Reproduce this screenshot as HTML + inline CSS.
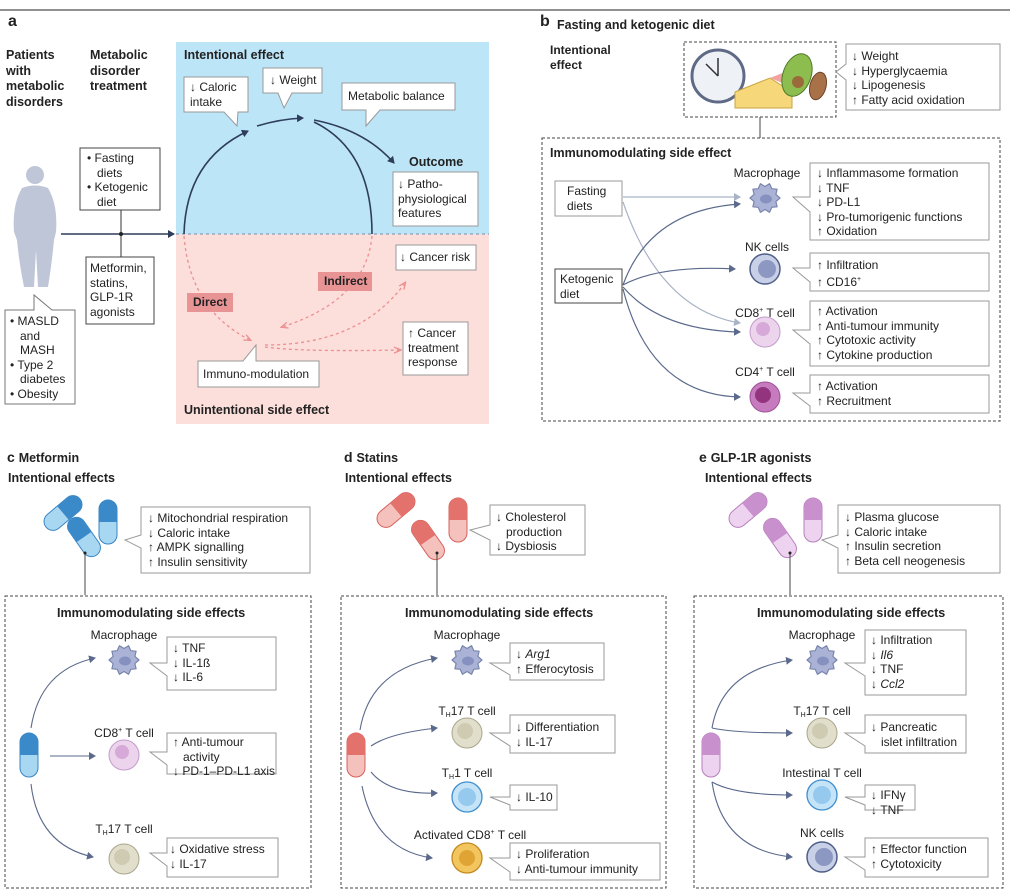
<!DOCTYPE html>
<html><head><meta charset="utf-8"><style>
body{margin:0;width:1016px;height:896px;position:relative;background:#fff;font-family:"Liberation Sans",sans-serif;color:#222;overflow:hidden}
.t{position:absolute;font-size:12px;line-height:14.5px;white-space:nowrap}
.b{font-weight:bold}
.h{position:absolute;font-weight:bold;font-size:12.5px;line-height:15px;white-space:nowrap}
.c{text-align:center;transform:translateX(-50%)}
sup{font-size:7px;vertical-align:5px}
sub{font-size:7px;vertical-align:-2px}
</style></head><body>
<svg width="1016" height="896" style="position:absolute;left:0;top:0">
<defs>
<marker id="ar" markerWidth="8" markerHeight="8" refX="6" refY="4" orient="auto" markerUnits="userSpaceOnUse"><path d="M0,0 L7,4 L0,8 Z" fill="#2f3d5c"/></marker>
<marker id="ag" markerWidth="8" markerHeight="8" refX="6" refY="4" orient="auto" markerUnits="userSpaceOnUse"><path d="M0,0 L7,4 L0,8 Z" fill="#5b6a8c"/></marker>
<marker id="al" markerWidth="8" markerHeight="8" refX="6" refY="4" orient="auto" markerUnits="userSpaceOnUse"><path d="M0,0 L7,4 L0,8 Z" fill="#a9b3c6"/></marker>
<marker id="ap" markerWidth="8" markerHeight="8" refX="6" refY="4" orient="auto" markerUnits="userSpaceOnUse"><path d="M0,1 L7,4 L0,7" fill="none" stroke="#ec8f8f" stroke-width="1.3"/></marker>
<symbol id="mac" overflow="visible"><polygon points="15,0 10.9,3.6 12.1,8.8 6.8,9.3 4.6,14.3 0,11.5 -4.6,14.3 -6.8,9.3 -12.1,8.8 -10.9,3.6 -15,0 -10.9,-3.6 -12.1,-8.8 -6.8,-9.3 -4.6,-14.3 0,-11.5 4.6,-14.3 6.8,-9.3 12.1,-8.8 10.9,-3.6" fill="#aab3d6" stroke="#7a85ad" stroke-width="1.2" stroke-linejoin="round"/><ellipse cx="1" cy="1" rx="6" ry="4.5" fill="#8791bf"/></symbol>
<symbol id="nk" overflow="visible"><circle r="15" fill="#c8d0e8" stroke="#4f5f88" stroke-width="1.5"/><circle cx="2" r="9" fill="#8d98c2"/></symbol>
<symbol id="cd8" overflow="visible"><circle r="15" fill="#ecd4ed" stroke="#c49bcc"/><circle cx="-2" cy="-3" r="7" fill="#d7a9d8"/></symbol>
<symbol id="cd4" overflow="visible"><circle r="15" fill="#c57bbd" stroke="#a05099"/><circle cx="-2" cy="-2" r="8" fill="#93347f"/></symbol>
<symbol id="th17" overflow="visible"><circle r="15" fill="#e1decb" stroke="#aaa68b"/><circle cx="-2" cy="-2" r="8" fill="#cfcbb3"/></symbol>
<symbol id="th1" overflow="visible"><circle r="15" fill="#c6e4f7" stroke="#3f8fd0" stroke-width="1.3"/><circle r="9" fill="#95c9ee"/></symbol>
<symbol id="act" overflow="visible"><circle r="15" fill="#f3c55e" stroke="#c28a1e" stroke-width="1.3"/><circle r="8" fill="#e0a434"/></symbol>
<symbol id="pb" overflow="visible"><rect x="-9" y="-22" width="18" height="44" rx="9" fill="#a8d7f2" stroke="#3a86c4"/><path d="M-9,0 V-13 A9,9 0 0 1 9,-13 V0 Z" fill="#3a8ac9"/></symbol>
<symbol id="pr" overflow="visible"><rect x="-9" y="-22" width="18" height="44" rx="9" fill="#f5c1bc" stroke="#d8605c"/><path d="M-9,0 V-13 A9,9 0 0 1 9,-13 V0 Z" fill="#e3716c"/></symbol>
<symbol id="pp" overflow="visible"><rect x="-9" y="-22" width="18" height="44" rx="9" fill="#eed3f0" stroke="#b77fbd"/><path d="M-9,0 V-13 A9,9 0 0 1 9,-13 V0 Z" fill="#c890cc"/></symbol>
</defs>
<line x1="0" y1="10" x2="1010" y2="10" stroke="#222" stroke-width="1"/>
<rect x="176" y="42" width="313" height="192" fill="#bde5f8"/>
<rect x="176" y="234" width="313" height="190" fill="#fcdedb"/>
<line x1="176" y1="234" x2="489" y2="234" stroke="#6f8fae" stroke-dasharray="3,3"/>
<g fill="#bfc6d8"><circle cx="35" cy="175" r="9"/><path d="M22,188 Q35,183 48,188 Q58,205 56,232 L54,240 Q52,262 48,287 L38,287 L36,250 L34,287 L24,287 Q19,262 17,240 L14,232 Q12,205 22,188 Z"/></g>
<g fill="#fff" stroke="#777">
<path d="M5,310H34V295L52,310H75V404H5Z"/>
<rect x="80" y="148" width="80" height="62" stroke="#444"/>
<rect x="86" y="257" width="68" height="67" stroke="#444"/>
</g>
<line x1="61" y1="234" x2="174" y2="234" stroke="#2f3d5c" stroke-width="1.5" marker-end="url(#ar)"/>
<line x1="121" y1="210" x2="121" y2="257" stroke="#333"/>
<circle cx="121" cy="234" r="2" fill="#222"/>
<g fill="#fff" stroke="#999">
<path d="M184,77H248V112H238L237,126L224,112H184Z"/>
<path d="M263,68H322V93H292L284,108L278,93H263Z"/>
<path d="M342,83H455V110H380L366,126L366,110H342Z"/>
<rect x="393" y="172" width="85" height="54"/>
<rect x="396" y="245" width="80" height="25"/>
<rect x="403" y="322" width="65" height="53"/>
<path d="M198,361H243L256,345L256,361H319V387H198Z"/>
</g>
<rect x="318" y="272" width="54" height="19" fill="#e89495"/>
<rect x="187" y="293" width="46" height="19" fill="#e89495"/>
<g fill="none" stroke="#2f3d5c" stroke-width="1.6">
<path d="M184,234 Q186,160 248,131" marker-end="url(#ar)"/>
<path d="M257,126 Q280,119 303,118" marker-end="url(#ar)"/>
<path d="M314,120 Q365,130 394,163" marker-end="url(#ar)"/>
<path d="M314,122 Q372,150 372,234"/>
</g>
<g fill="none" stroke="#ec8f8f" stroke-width="1.3" stroke-dasharray="3,3">
<path d="M184,236 Q190,310 250,340" marker-end="url(#ap)"/>
<path d="M372,236 Q366,300 282,327" marker-end="url(#ap)"/>
<path d="M265,345 Q360,345 405,283" marker-end="url(#ap)"/>
<path d="M265,347 Q300,352 400,350" marker-end="url(#ap)"/>
</g>
<rect x="684" y="42" width="152" height="75" fill="none" stroke="#444" stroke-dasharray="3,2"/>
<line x1="760" y1="117" x2="760" y2="138" stroke="#444"/>
<circle cx="718" cy="76" r="26" fill="#eef1f6" stroke="#5e6a86" stroke-width="3"/>
<line x1="718" y1="76" x2="718" y2="58" stroke="#333" stroke-width="1.5"/><line x1="718" y1="76" x2="706" y2="64" stroke="#333" stroke-width="1.5"/>
<path d="M735,92 L770,78 L792,92 L792,108 L735,108 Z" fill="#f6d77a" stroke="#c9a544"/>
<path d="M770,78 L790,70 L795,88" fill="#f2a3a0"/>
<ellipse cx="797" cy="75" rx="14" ry="22" transform="rotate(20 797 75)" fill="#8dbd4e" stroke="#4d7a2a"/>
<circle cx="798" cy="82" r="6" fill="#9a6a3a"/>
<ellipse cx="818" cy="86" rx="8" ry="14" transform="rotate(15 818 86)" fill="#a87148" stroke="#6e4528"/>
<rect x="542" y="138" width="458" height="283" fill="none" stroke="#444" stroke-dasharray="3,2"/>
<g fill="#fff" stroke="#999">
<path d="M846,44H1000V110H846V80L836,72L846,64Z"/>
<path d="M810,163H989V240H810V212L793,197L810,197Z"/>
<path d="M810,253H989V291H810V282L793,268L810,268Z"/>
<path d="M810,301H989V366H810V344L793,330L810,330Z"/>
<path d="M810,375H989V413H810V406L793,393L810,393Z"/>
<rect x="555" y="181" width="67" height="35"/>
<rect x="555" y="269" width="67" height="34" stroke="#444"/>
</g>
<g fill="none" stroke-width="1.2">
<path d="M623,197 L740,197" stroke="#a9b3c6" marker-end="url(#al)"/>
<path d="M623,202 Q660,310 740,323" stroke="#a9b3c6" marker-end="url(#al)"/>
<path d="M623,285 Q650,210 740,204" stroke="#5b6a8c" marker-end="url(#ag)"/>
<path d="M623,285 Q660,265 735,269" stroke="#5b6a8c" marker-end="url(#ag)"/>
<path d="M623,287 Q660,330 740,332" stroke="#5b6a8c" marker-end="url(#ag)"/>
<path d="M623,289 Q650,395 740,397" stroke="#5b6a8c" marker-end="url(#ag)"/>
</g>
<use href="#mac" x="765" y="198"/><use href="#nk" x="765" y="269"/><use href="#cd8" x="765" y="332"/><use href="#cd4" x="765" y="397"/>
<use href="#pb" transform="translate(63,513) rotate(50)"/>
<use href="#pb" x="108" y="522"/>
<use href="#pb" transform="translate(84,537) rotate(-35)"/>
<line x1="85" y1="553" x2="85" y2="595" stroke="#444"/><circle cx="85" cy="553" r="1.5" fill="#222"/>
<rect x="5" y="596" width="306" height="292" fill="none" stroke="#444" stroke-dasharray="3,2"/>
<use href="#pb" x="29" y="755"/>
<use href="#pr" transform="translate(396,510) rotate(50)"/>
<use href="#pr" x="458" y="520"/>
<use href="#pr" transform="translate(428,540) rotate(-35)"/>
<line x1="437" y1="553" x2="437" y2="595" stroke="#444"/><circle cx="437" cy="553" r="1.5" fill="#222"/>
<rect x="341" y="596" width="325" height="292" fill="none" stroke="#444" stroke-dasharray="3,2"/>
<use href="#pr" x="356" y="755"/>
<use href="#pp" transform="translate(748,510) rotate(50)"/>
<use href="#pp" x="813" y="520"/>
<use href="#pp" transform="translate(780,538) rotate(-35)"/>
<line x1="790" y1="553" x2="790" y2="595" stroke="#444"/><circle cx="790" cy="553" r="1.5" fill="#222"/>
<rect x="694" y="596" width="309" height="292" fill="none" stroke="#444" stroke-dasharray="3,2"/>
<use href="#pp" x="711" y="755"/>
<g fill="#fff" stroke="#999">
<path d="M141,507H310V573H141V548L125,540L141,535Z"/>
<path d="M167,637H276V690H167V676L150,663L167,663Z"/>
<path d="M167,733H276V774H167V765L150,752L167,752Z"/>
<path d="M167,838H278V877H167V866L150,853L167,853Z"/>
<path d="M490,505H585V555H490V540L470,530L490,525Z"/>
<path d="M510,643H604V680H510V675L490,663L510,663Z"/>
<path d="M510,715H615V753H510V746L490,733L510,733Z"/>
<path d="M510,785H557V810H510V805L490,797L510,797Z"/>
<path d="M510,843H660V880H510V872L490,858L510,858Z"/>
<path d="M838,505H1000V573H838V548L822,540L838,535Z"/>
<path d="M865,630H966V695H865V676L845,663L865,663Z"/>
<path d="M865,715H966V753H865V746L845,733L865,733Z"/>
<path d="M865,785H915V810H865V805L845,797L865,797Z"/>
<path d="M865,838H988V877H865V870L845,857L865,857Z"/>
</g>
<g fill="none" stroke="#5b6a8c" stroke-width="1.1">
<path d="M31,728 Q40,670 95,658" marker-end="url(#ag)"/>
<path d="M50,756 L95,756" marker-end="url(#ag)"/>
<path d="M31,784 Q38,845 93,857" marker-end="url(#ag)"/>
<path d="M360,730 Q370,670 437,658" marker-end="url(#ag)"/>
<path d="M371,746 Q390,733 437,728" marker-end="url(#ag)"/>
<path d="M371,772 Q390,795 437,793" marker-end="url(#ag)"/>
<path d="M362,786 Q375,850 432,858" marker-end="url(#ag)"/>
<path d="M712,728 Q722,670 792,660" marker-end="url(#ag)"/>
<path d="M712,728 Q735,733 792,733" marker-end="url(#ag)"/>
<path d="M712,782 Q735,795 792,795" marker-end="url(#ag)"/>
<path d="M712,782 Q722,850 792,857" marker-end="url(#ag)"/>
</g>
<use href="#mac" x="124" y="660"/><use href="#cd8" x="124" y="755"/><use href="#th17" x="124" y="859"/>
<use href="#mac" x="467" y="660"/><use href="#th17" x="467" y="733"/><use href="#th1" x="467" y="797"/><use href="#act" x="467" y="858"/>
<use href="#mac" x="822" y="660"/><use href="#th17" x="822" y="733"/><use href="#th1" x="822" y="795"/><use href="#nk" x="822" y="857"/>
</svg>

<div class="h" style="left:8px;top:14px;font-size:16px">a</div>
<div class="h" style="left:6px;top:48px;line-height:15.5px">Patients<br>with<br>metabolic<br>disorders</div>
<div class="h" style="left:90px;top:48px;line-height:15.5px">Metabolic<br>disorder<br>treatment</div>
<div class="h" style="left:184px;top:48px">Intentional effect</div>
<div class="t" style="left:190px;top:80px">↓ Caloric<br>intake</div>
<div class="t" style="left:270px;top:73px">↓ Weight</div>
<div class="t" style="left:348px;top:89px">Metabolic balance</div>
<div class="h" style="left:409px;top:155px">Outcome</div>
<div class="t" style="left:398px;top:177px">↓ Patho-<br>physiological<br>features</div>
<div class="t" style="left:87px;top:151px">• Fasting<br>&nbsp;&nbsp;&nbsp;diets<br>• Ketogenic<br>&nbsp;&nbsp;&nbsp;diet</div>
<div class="t" style="left:90px;top:261px">Metformin,<br>statins,<br>GLP-1R<br>agonists</div>
<div class="t" style="left:10px;top:314px">• MASLD<br>&nbsp;&nbsp;&nbsp;and<br>&nbsp;&nbsp;&nbsp;MASH<br>• Type 2<br>&nbsp;&nbsp;&nbsp;diabetes<br>• Obesity</div>
<div class="t" style="left:400px;top:250px">↓ Cancer risk</div>
<div class="h" style="left:324px;top:274px;font-size:12px">Indirect</div>
<div class="h" style="left:193px;top:295px;font-size:12px">Direct</div>
<div class="t" style="left:408px;top:326px">↑ Cancer<br>treatment<br>response</div>
<div class="t" style="left:203px;top:367px">Immuno-modulation</div>
<div class="h" style="left:184px;top:403px">Unintentional side effect</div>

<div class="h" style="left:540px;top:14px;font-size:16px">b</div>
<div class="h" style="left:557px;top:18px">Fasting and ketogenic diet</div>
<div class="h" style="left:550px;top:43px;font-size:12px">Intentional<br>effect</div>
<div class="t" style="left:852px;top:49px">↓ Weight<br>↓ Hyperglycaemia<br>↓ Lipogenesis<br>↑ Fatty acid oxidation</div>
<div class="h" style="left:550px;top:146px">Immunomodulating side effect</div>
<div class="t" style="left:567px;top:184px">Fasting<br>diets</div>
<div class="t" style="left:560px;top:272px">Ketogenic<br>diet</div>
<div class="t c" style="left:767px;top:166px">Macrophage</div>
<div class="t c" style="left:767px;top:240px">NK cells</div>
<div class="t c" style="left:765px;top:304px">CD8<sup>+</sup> T cell</div>
<div class="t c" style="left:765px;top:363px">CD4<sup>+</sup> T cell</div>
<div class="t" style="left:817px;top:166px">↓ Inflammasome formation<br>↓ TNF<br>↓ PD-L1<br>↓ Pro-tumorigenic functions<br>↑ Oxidation</div>
<div class="t" style="left:817px;top:258px">↑ Infiltration<br>↑ CD16<sup>+</sup></div>
<div class="t" style="left:817px;top:304px">↑ Activation<br>↑ Anti-tumour immunity<br>↑ Cytotoxic activity<br>↑ Cytokine production</div>
<div class="t" style="left:817px;top:379px">↑ Activation<br>↑ Recruitment</div>

<div class="h" style="left:7px;top:450px;font-size:14px">c <span style="font-size:12.5px">Metformin</span></div>
<div class="h" style="left:8px;top:471px">Intentional effects</div>
<div class="t" style="left:148px;top:511px">↓ Mitochondrial respiration<br>↓ Caloric intake<br>↑ AMPK signalling<br>↑ Insulin sensitivity</div>
<div class="h" style="left:57px;top:606px">Immunomodulating side effects</div>
<div class="t c" style="left:124px;top:628px">Macrophage</div>
<div class="t" style="left:173px;top:641px">↓ TNF<br>↓ IL-1ß<br>↓ IL-6</div>
<div class="t c" style="left:124px;top:724px">CD8<sup>+</sup> T cell</div>
<div class="t" style="left:173px;top:735px">↑ Anti-tumour<br>&nbsp;&nbsp;&nbsp;activity<br>↓ PD-1–PD-L1 axis</div>
<div class="t c" style="left:124px;top:822px">T<sub>H</sub>17 T cell</div>
<div class="t" style="left:170px;top:842px">↓ Oxidative stress<br>↓ IL-17</div>

<div class="h" style="left:344px;top:450px;font-size:14px">d <span style="font-size:12.5px">Statins</span></div>
<div class="h" style="left:345px;top:471px">Intentional effects</div>
<div class="t" style="left:496px;top:510px">↓ Cholesterol<br>&nbsp;&nbsp;&nbsp;production<br>↓ Dysbiosis</div>
<div class="h" style="left:405px;top:606px">Immunomodulating side effects</div>
<div class="t c" style="left:467px;top:628px">Macrophage</div>
<div class="t" style="left:516px;top:647px">↓ <i>Arg1</i><br>↑ Efferocytosis</div>
<div class="t c" style="left:467px;top:704px">T<sub>H</sub>17 T cell</div>
<div class="t" style="left:516px;top:720px">↓ Differentiation<br>↓ IL-17</div>
<div class="t c" style="left:467px;top:766px">T<sub>H</sub>1 T cell</div>
<div class="t" style="left:516px;top:790px">↓ IL-10</div>
<div class="t c" style="left:470px;top:826px">Activated CD8<sup>+</sup> T cell</div>
<div class="t" style="left:516px;top:847px">↓ Proliferation<br>↓ Anti-tumour immunity</div>

<div class="h" style="left:699px;top:450px;font-size:14px">e <span style="font-size:12.5px">GLP-1R agonists</span></div>
<div class="h" style="left:705px;top:471px">Intentional effects</div>
<div class="t" style="left:845px;top:510px">↓ Plasma glucose<br>↓ Caloric intake<br>↑ Insulin secretion<br>↑ Beta cell neogenesis</div>
<div class="h" style="left:757px;top:606px">Immunomodulating side effects</div>
<div class="t c" style="left:822px;top:628px">Macrophage</div>
<div class="t" style="left:871px;top:633px">↓ Infiltration<br>↓ <i>Il6</i><br>↓ TNF<br>↓ <i>Ccl2</i></div>
<div class="t c" style="left:822px;top:704px">T<sub>H</sub>17 T cell</div>
<div class="t" style="left:871px;top:720px">↓ Pancreatic<br>&nbsp;&nbsp;&nbsp;islet infiltration</div>
<div class="t c" style="left:822px;top:766px">Intestinal T cell</div>
<div class="t" style="left:871px;top:788px">↓ IFNγ<br>↓ TNF</div>
<div class="t c" style="left:822px;top:826px">NK cells</div>
<div class="t" style="left:871px;top:842px">↑ Effector function<br>↑ Cytotoxicity</div>
</body></html>
